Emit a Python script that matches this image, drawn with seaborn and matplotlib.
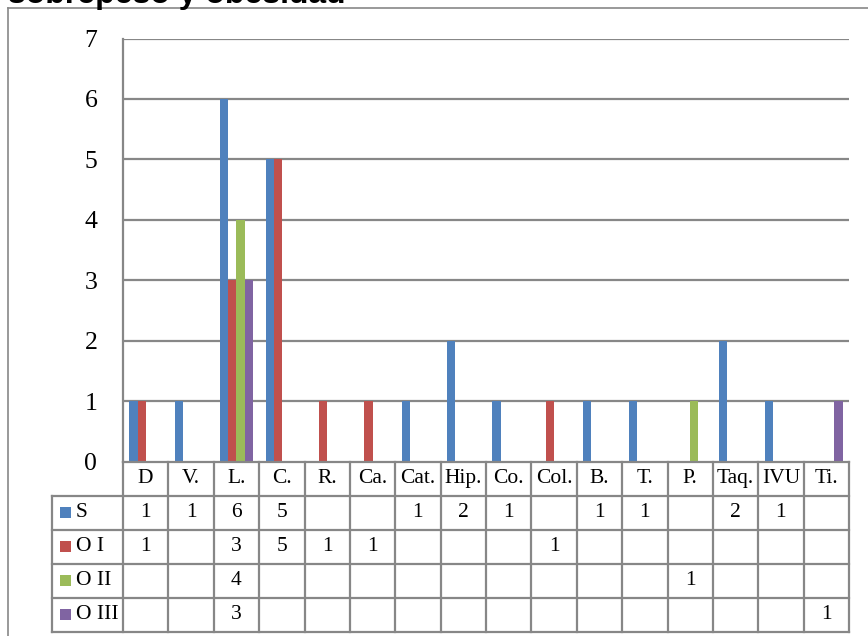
import numpy as np
import pandas as pd
import matplotlib
matplotlib.use("Agg")
import matplotlib.pyplot as plt
import matplotlib.transforms as mtransforms
import seaborn as sns

# Diagnoses (abbreviated) and counts per weight group
categories = ["D", "V.", "L.", "C.", "R.", "Ca.", "Cat.", "Hip.", "Co.", "Col.",
              "B.", "T.", "P.", "Taq.", "IVU", "Ti."]
series_names = ["S", "O I", "O II", "O III"]
s_vals = [1, 1, 6, 5, None, None, 1, 2, 1, None, 1, 1, None, 2, 1, None]
o1_vals = [1, None, 3, 5, 1, 1, None, None, None, 1, None, None, None, None, None, None]
o2_vals = [None, None, 4, None, None, None, None, None, None, None, None, None, 1, None, None, None]
o3_vals = [None, None, 3, None, None, None, None, None, None, None, None, None, None, None, None, 1]
title_text = "sobrepeso y obesidad"

colors = ["#4F81BD", "#C0504D", "#9BBB59", "#8064A2"]
grid_col = "#878787"

series_vals = [s_vals, o1_vals, o2_vals, o3_vals]
rows = []
for name, vals in zip(series_names, series_vals):
    for cat, v in zip(categories, vals):
        rows.append({"cat": cat, "serie": name,
                     "valor": np.nan if v is None else float(v)})
df = pd.DataFrame(rows)

W, H = 868, 636
fig = plt.figure(figsize=(W / 100, H / 100), dpi=100)
fig.patch.set_facecolor("white")

# plot area in pixel coordinates
left_px, right_px, top_px, base_px = 123, 849, 38.5, 461.5
ax = fig.add_axes([left_px / W, (H - base_px) / H,
                   (right_px - left_px) / W, (base_px - top_px) / H])

sns.barplot(data=df, x="cat", y="valor", hue="serie", order=categories,
            hue_order=series_names, palette=colors, width=0.716,
            errorbar=None, saturation=1, linewidth=0, legend=False, ax=ax)

ax.set_xlim(-0.5, len(categories) - 0.5)
ax.set_ylim(0, 7)
ax.set_yticks(range(8))
ax.set_yticklabels([str(i) for i in range(8)], family="Liberation Serif",
                   fontsize=18.5)
ax.tick_params(axis="y", length=0, pad=18.5)
ax.set_xticks([])
ax.set_xlabel("")
ax.set_ylabel("")
for side in ["top", "right", "bottom"]:
    ax.spines[side].set_visible(False)
ax.spines["left"].set_color(grid_col)
ax.spines["left"].set_linewidth(1.6)
for yv in range(1, 8):
    ax.axhline(yv, color=grid_col, lw=1.6, zorder=0)
ax.set_axisbelow(True)

# data table under the plot
trans = mtransforms.blended_transform_factory(ax.transData, ax.transAxes)
plot_h = base_px - top_px
rh = 34.0 / plot_h
n = len(categories)
x0, x1 = -0.5, n - 0.5
leg_left = -0.5 - 71.0 / ((right_px - left_px) / n)
line_kw = dict(color=grid_col, lw=1.6, transform=trans, clip_on=False)

# horizontal lines
ax.plot([x0, x1], [0, 0], **line_kw)
for r in range(1, 6):
    ax.plot([leg_left, x1], [-r * rh, -r * rh], **line_kw)
# vertical lines
for i in range(n + 1):
    ax.plot([i - 0.5, i - 0.5], [0, -5 * rh], **line_kw)
ax.plot([leg_left, leg_left], [-rh, -5 * rh], **line_kw)

txt_kw = dict(transform=trans, ha="center", va="center",
              family="Liberation Serif", fontsize=15.5, clip_on=False)
for i, cat in enumerate(categories):
    ax.text(i, -0.5 * rh, cat, **txt_kw)
for r, (vals, col, name) in enumerate(zip(series_vals, colors, series_names)):
    yc = -(r + 1.5) * rh
    for i, v in enumerate(vals):
        if v is not None:
            ax.text(i, yc, str(v), **txt_kw)
    # legend key + name
    key_x = 60 / W
    key_y = (H - (base_px + (r + 1.5) * 34.0)) / H
    fig.patches.append(plt.Rectangle((key_x, key_y - 5.5 / H), 11 / W, 11 / H,
                                     transform=fig.transFigure,
                                     facecolor=col, edgecolor="none"))
    fig.text(76 / W, key_y, name, ha="left", va="center",
             family="Liberation Serif", fontsize=15.5)

# chart frame
frame_kw = dict(color=grid_col, lw=1.2, transform=fig.transFigure)
fig.add_artist(plt.Line2D([7.5 / W, 7.5 / W], [0, (H - 8) / H], **frame_kw))
fig.add_artist(plt.Line2D([7.5 / W, 1], [(H - 8) / H, (H - 8) / H], **frame_kw))

fig.text(8 / W, (H - 3) / H, title_text, ha="left", va="baseline",
         family="Liberation Sans", fontweight="bold", fontsize=23)

fig.savefig("out.png", dpi=100, facecolor="white")
